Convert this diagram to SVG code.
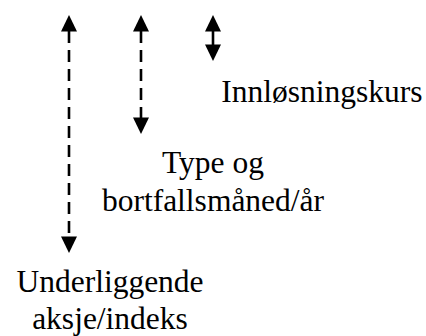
<svg xmlns="http://www.w3.org/2000/svg" xmlns:xlink="http://www.w3.org/1999/xlink" width="426" height="336" viewBox="0 0 426 336">
  <style>
    .lbl { font-family: "Liberation Serif", "Times New Roman", serif; font-size: 31.5px; fill: #000; text-anchor: middle; }
    .dash { stroke: #000; stroke-width: 2.6; stroke-dasharray: 12 7; fill: none; }
    .solid { stroke: #000; stroke-width: 2.6; fill: none; }
  </style>
  <defs>
    <!-- arrowhead with its tip at the origin, pointing up -->
    <path id="head" d="M0,0 L-8,16.5 L8,16.5 Z" fill="#000"/>
  </defs>
  <rect width="426" height="336" fill="#fff"/>

  <g id="connectors">
    <!-- long dashed double arrow -->
    <line class="dash" x1="69" y1="31" x2="69" y2="236"/>
    <use xlink:href="#head" transform="translate(69,15)"/>
    <use xlink:href="#head" transform="translate(69,253) scale(1,-1)"/>
    <!-- middle dashed double arrow -->
    <line class="dash" x1="141" y1="31" x2="141" y2="118"/>
    <use xlink:href="#head" transform="translate(141,15)"/>
    <use xlink:href="#head" transform="translate(141,134) scale(1,-1)"/>
    <!-- short solid double arrow -->
    <line class="solid" x1="213" y1="30" x2="213" y2="45"/>
    <use xlink:href="#head" transform="translate(213,15)"/>
    <use xlink:href="#head" transform="translate(213,61) scale(1,-1)"/>
  </g>

  <g id="innlosningskurs">
    <text class="lbl" x="322" y="102">Innløsningskurs</text>
  </g>
  <g id="type-bortfall">
    <text class="lbl" x="213" y="173">Type og</text>
    <text class="lbl" x="213" y="211">bortfallsmåned/år</text>
  </g>
  <g id="underliggende">
    <text class="lbl" x="110" y="292">Underliggende</text>
    <text class="lbl" x="110" y="329">aksje/indeks</text>
  </g>
</svg>
